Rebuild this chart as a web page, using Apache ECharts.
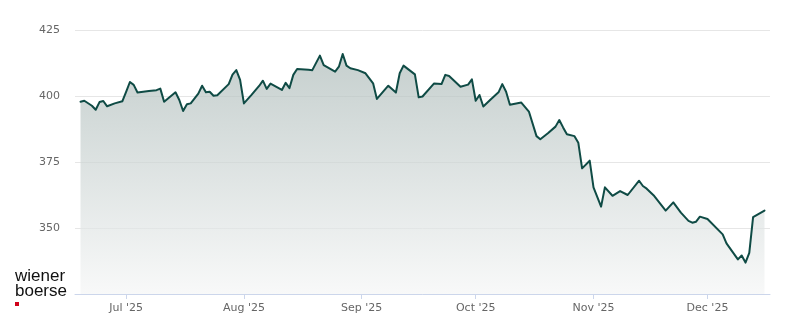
<!DOCTYPE html>
<html>
<head>
<meta charset="utf-8">
<script src="https://cdn.jsdelivr.net/npm/echarts@6/dist/echarts.min.js"></script>
<style>
  html, body { margin: 0; padding: 0; background: #ffffff; }
  #chart { width: 800px; height: 324px; }
</style>
</head>
<body>
<div id="chart"></div>
<script>
// ---- data ----
const dates = [
  '2025-06-19','2025-06-20','2025-06-22','2025-06-23','2025-06-24','2025-06-25','2025-06-26','2025-06-28','2025-06-30',
  '2025-07-01','2025-07-02','2025-07-03','2025-07-04','2025-07-07','2025-07-09','2025-07-10','2025-07-11','2025-07-14',
  '2025-07-15','2025-07-16','2025-07-17','2025-07-18','2025-07-20','2025-07-21','2025-07-22','2025-07-23','2025-07-24',
  '2025-07-25','2025-07-28','2025-07-29','2025-07-30','2025-07-31',
  '2025-08-01','2025-08-03','2025-08-05','2025-08-06','2025-08-07','2025-08-08','2025-08-11','2025-08-12','2025-08-13',
  '2025-08-14','2025-08-15','2025-08-18','2025-08-19','2025-08-21','2025-08-22','2025-08-25','2025-08-26','2025-08-27',
  '2025-08-28','2025-08-29','2025-08-31',
  '2025-09-02','2025-09-04','2025-09-05','2025-09-08','2025-09-10','2025-09-11','2025-09-12','2025-09-15','2025-09-16',
  '2025-09-17','2025-09-20','2025-09-22','2025-09-23','2025-09-24','2025-09-27','2025-09-29','2025-09-30',
  '2025-10-01','2025-10-02','2025-10-03','2025-10-05','2025-10-07','2025-10-08','2025-10-09','2025-10-10','2025-10-13',
  '2025-10-15','2025-10-17','2025-10-18','2025-10-20','2025-10-22','2025-10-23','2025-10-24','2025-10-25','2025-10-27',
  '2025-10-28','2025-10-29','2025-10-31',
  '2025-11-01','2025-11-03','2025-11-04','2025-11-06','2025-11-08','2025-11-10','2025-11-13','2025-11-14','2025-11-15',
  '2025-11-17','2025-11-20','2025-11-22','2025-11-24','2025-11-26','2025-11-27','2025-11-28','2025-11-29',
  '2025-12-01','2025-12-05','2025-12-06','2025-12-09','2025-12-10','2025-12-11','2025-12-12','2025-12-13','2025-12-16'
];
const prices = [
  397.8,398.2,396.3,394.8,397.7,398.1,396.1,397.2,398.0,
  401.6,405.3,404.2,401.3,401.9,402.2,402.8,397.8,401.4,
  398.5,394.3,396.9,397.2,400.9,403.9,401.4,401.6,400.1,
  400.3,404.5,408.1,409.8,406.1,
  397.2,400.4,403.8,405.8,402.7,404.7,402.3,405.0,403.0,
  408.0,410.2,409.9,409.8,415.3,411.7,409.2,411.1,415.9,
  411.5,410.5,409.8,
  408.6,404.8,398.9,403.9,401.3,408.6,411.5,408.2,399.5,
  399.8,404.7,404.5,408.0,407.6,403.5,404.3,406.3,
  398.2,400.4,396.0,398.8,401.4,404.5,401.6,396.7,397.5,
  394.1,384.8,383.6,385.9,388.4,390.9,388.1,385.5,384.8,
  382.3,372.6,375.5,
  365.4,358.1,365.4,362.2,364.0,362.5,367.9,365.9,364.9,
  362.1,356.6,359.7,355.8,352.7,352.0,352.4,354.3,
  353.4,347.6,344.2,338.1,339.6,336.9,340.6,354.1,356.6
];
const monthNames = ['Jan','Feb','Mar','Apr','May','Jun','Jul','Aug','Sep','Oct','Nov','Dec'];
const yTicks = { min: 325, max: 425, interval: 25 };
const xRange = { min: '2025-06-17T13:12:00Z', max: '2025-12-17T10:48:00Z' };

// ---- build ----
function toUTC(s) {
  const p = s.split('-').map(Number);
  return Date.UTC(p[0], p[1] - 1, p[2]);
}
const seriesData = dates.map((d, i) => [toUTC(d), prices[i]]);

const chart = echarts.init(document.getElementById('chart'), null, { renderer: 'canvas' });
chart.setOption({
  useUTC: true,
  animation: false,
  backgroundColor: '#ffffff',
  grid: { left: 75, right: 30, top: 30, bottom: 30, containLabel: false },
  xAxis: {
    type: 'time',
    min: Date.parse(xRange.min),
    max: Date.parse(xRange.max),
    minInterval: 28 * 86400000,
    maxInterval: 31 * 86400000,
    axisLine: { show: true, lineStyle: { color: '#ccd6eb', width: 1 } },
    axisTick: { show: true, length: 5, lineStyle: { color: '#ccd6eb' } },
    splitLine: { show: false },
    axisLabel: {
      color: '#666666',
      fontSize: 11,
      fontFamily: 'DejaVu Sans',
      margin: 9,
      showMinLabel: false,
      showMaxLabel: false,
      formatter: function (v) {
        const d = new Date(v);
        return monthNames[d.getUTCMonth()] + " '" + String(d.getUTCFullYear()).slice(2);
      }
    }
  },
  yAxis: {
    type: 'value',
    min: yTicks.min,
    max: yTicks.max,
    interval: yTicks.interval,
    axisLine: { show: false },
    axisTick: { show: false },
    splitLine: { show: true, lineStyle: { color: '#e6e6e6', width: 1 } },
    axisLabel: {
      color: '#666666',
      fontSize: 11,
      fontFamily: 'DejaVu Sans',
      margin: 15,
      showMinLabel: false
    }
  },
  series: [{
    type: 'line',
    data: seriesData,
    showSymbol: false,
    symbol: 'none',
    lineStyle: { color: '#0f4b45', width: 2, join: 'round', cap: 'round' },
    areaStyle: {
      color: new echarts.graphic.LinearGradient(0, 0, 0, 1, [
        { offset: 0, color: '#adbbb9' },
        { offset: 1, color: '#f5f6f6' }
      ])
    },
    z: 3
  }],
  graphic: [
    { type: 'text', left: 15, top: 268, style: { text: 'wiener', font: '17px "Liberation Sans", Arial, sans-serif', fill: '#111111' } },
    { type: 'text', left: 15, top: 283, style: { text: 'boerse', font: '17px "Liberation Sans", Arial, sans-serif', fill: '#111111' } },
    { type: 'rect', shape: { x: 15, y: 302, width: 4, height: 4 }, style: { fill: '#d0021b' } }
  ]
});
</script>
</body>
</html>
